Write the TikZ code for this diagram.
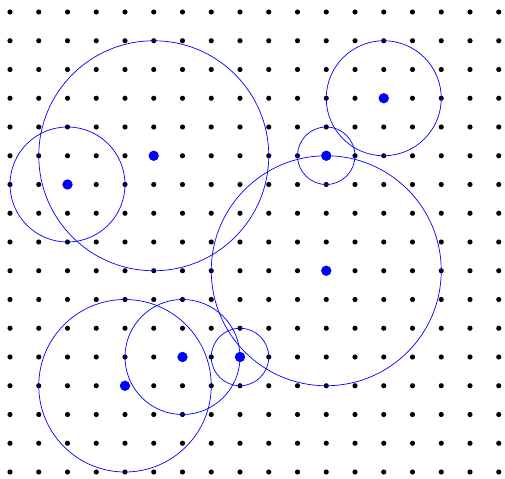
\documentclass[tikz,border=0pt]{standalone}
\usepackage{xcolor}
\usepackage{tikz}

\begin{document}
\begin{tikzpicture}[y=-1cm,
        gridpt/.style={circle, fill=black, inner sep=0pt, minimum size=0.18cm},
        centre/.style={circle, fill=blue, inner sep=0pt, minimum size=0.36cm},
        ring/.style={draw=blue, line width=0.7pt}]
        \useasboundingbox (-0.348,-0.417) rectangle (17.217,16.209);

        \foreach \i in {0,...,17}
            \foreach \j in {0,...,16}
                \node[gridpt] (g-\i-\j) at (\i,\j) {};

        \node[centre] (c1) at (13,3)  {};
        \node[centre] (c2) at (11,5)  {};
        \node[centre] (c3) at (5,5)   {};
        \node[centre] (c4) at (2,6)   {};
        \node[centre] (c5) at (11,9)  {};
        \node[centre] (c6) at (6,12)  {};
        \node[centre] (c7) at (8,12)  {};
        \node[centre] (c8) at (4,13)  {};

        \draw[ring] (c1.center) circle (2);
        \draw[ring] (c2.center) circle (1);
        \draw[ring] (c3.center) circle (4);
        \draw[ring] (c4.center) circle (2);
        \draw[ring] (c5.center) circle (4);
        \draw[ring] (c6.center) circle (2);
        \draw[ring] (c7.center) circle (1);
        \draw[ring] (c8.center) circle (3);

    \end{tikzpicture}
\end{document}
